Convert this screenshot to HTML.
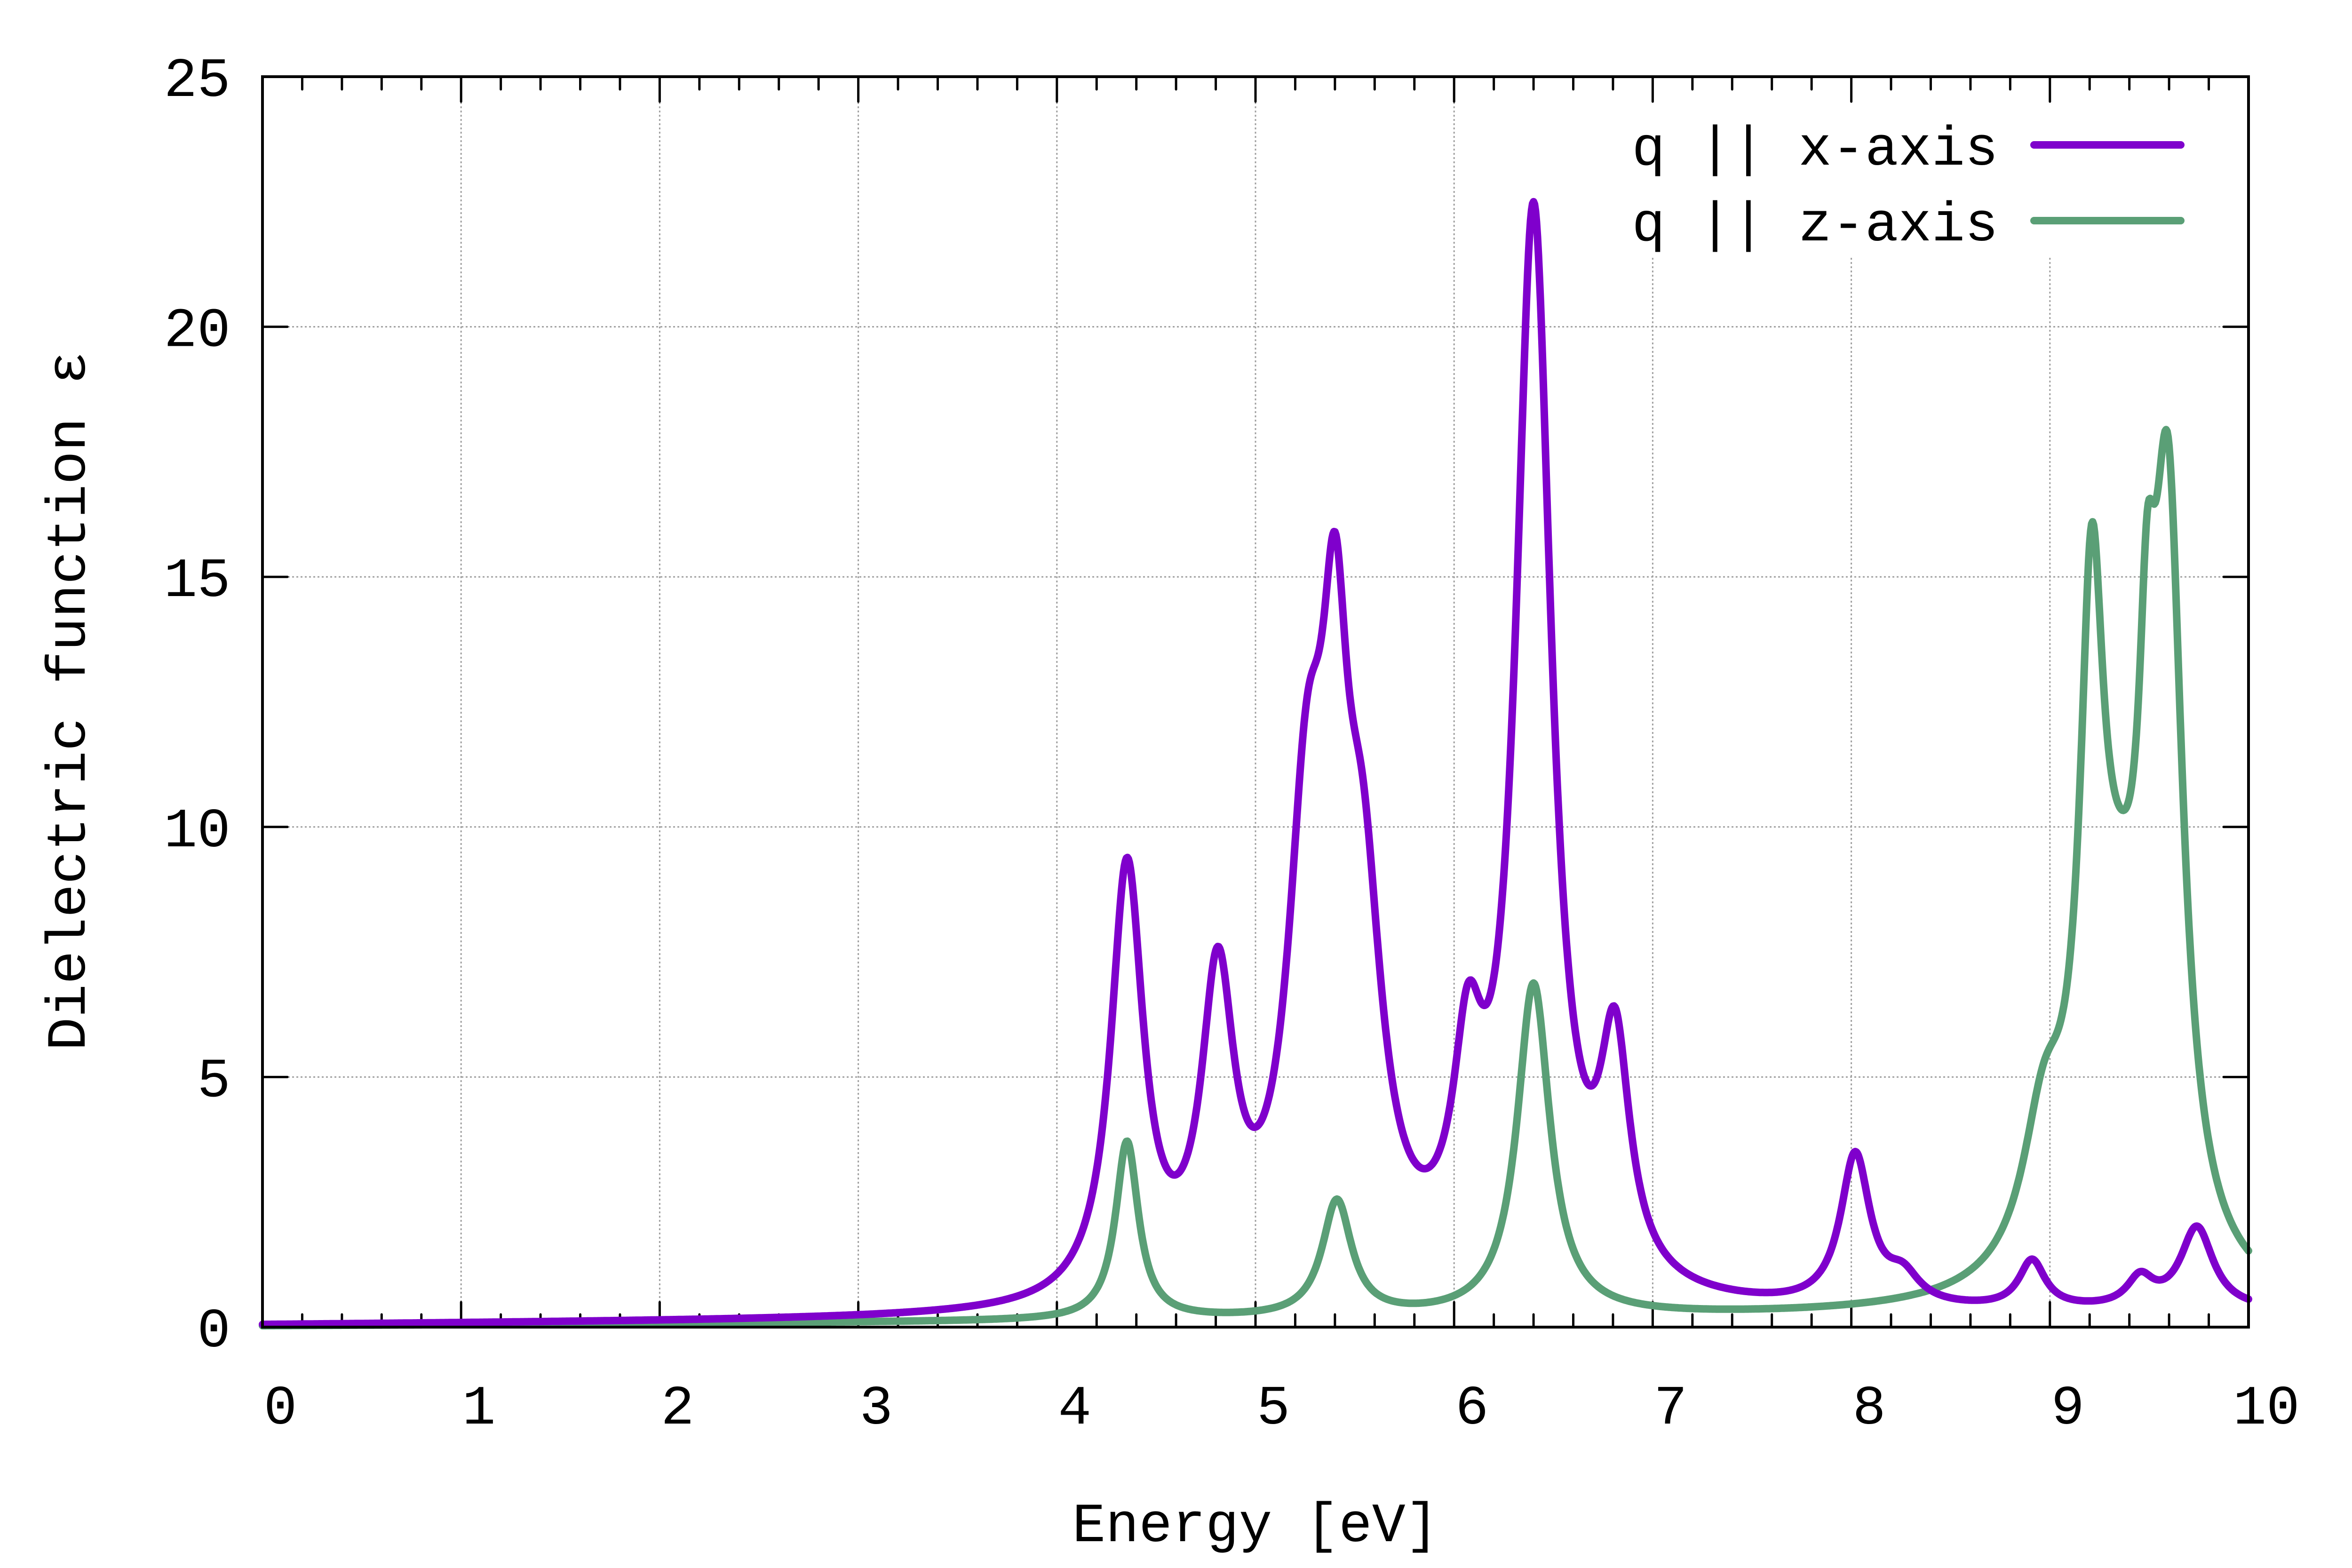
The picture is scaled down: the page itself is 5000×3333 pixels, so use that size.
<!DOCTYPE html>
<html><head><meta charset="utf-8">
<style>
html,body{margin:0;padding:0;background:#fff;}
svg{display:block;}
text{font-family:"Liberation Mono","DejaVu Sans Mono",monospace;font-size:118px;fill:#000;}
</style></head>
<body>
<svg id="s" width="5000" height="3333" viewBox="0 0 5000 3333" xmlns="http://www.w3.org/2000/svg">
<rect width="5000" height="3333" fill="#fff"/>
<g id="grid" stroke="#a0a0a0" stroke-width="3" stroke-dasharray="4,5" fill="none"></g>
<rect x="3400" y="166" width="1330" height="382" fill="#fff"/>
<g id="ticks" stroke="#000" stroke-width="5" stroke-linecap="round" fill="none"></g>
<g id="labels"></g>
<text x="2669" y="3276" text-anchor="middle">Energy [eV]</text>
<text transform="translate(180,1490) rotate(-90)" text-anchor="middle">Dielectric function ε</text>
<g fill="none" stroke-width="16" stroke-linecap="round" stroke-linejoin="round">
<path id="pz" stroke="#5a9f76"/>
<path id="px" stroke="#7f00cc"/>
</g>
<rect x="558" y="163" width="4222" height="2658" fill="none" stroke="#000" stroke-width="6"/>
<text x="4248" y="350" text-anchor="end">q || x-axis</text>
<text x="4248" y="511" text-anchor="end">q || z-axis</text>
<line x1="4324" y1="308" x2="4636" y2="308" stroke="#7f00cc" stroke-width="16" stroke-linecap="round"/>
<line x1="4324" y1="469" x2="4636" y2="469" stroke="#5a9f76" stroke-width="16" stroke-linecap="round"/>
</svg>
<script>
var L=558,R=4780,T=163,B=2821;
function X(e){return L+(R-L)*e/10;}
function Y(v){return B-(B-T)*v/25;}
var NS="http://www.w3.org/2000/svg";
function el(p,tag,attrs,txt){var n=document.createElementNS(NS,tag);for(var k in attrs)n.setAttribute(k,attrs[k]);if(txt!==undefined)n.textContent=txt;p.appendChild(n);return n;}
var grid=document.getElementById('grid'),ticks=document.getElementById('ticks'),labels=document.getElementById('labels');
for(var i=1;i<10;i++){var x=X(i);el(grid,'line',{x1:x,y1:(x>3400&&x<4730)?548:T,x2:x,y2:B});}
for(var v=5;v<25;v+=5){var y=Y(v);el(grid,'line',{x1:L,y1:y,x2:(y<548)?3400:R,y2:y});}
for(var i=0;i<=50;i++){var x=X(i/5);var len=(i%5==0)?53:27;
 el(ticks,'line',{x1:x,y1:B,x2:x,y2:B-len});el(ticks,'line',{x1:x,y1:T,x2:x,y2:T+len});}
for(var v=0;v<=25;v+=5){var y=Y(v);el(ticks,'line',{x1:L,y1:y,x2:L+53,y2:y});el(ticks,'line',{x1:R,y1:y,x2:R-53,y2:y});
 el(labels,'text',{x:490,y:y+41,'text-anchor':'end'},String(v));}
for(var i=0;i<=10;i++){el(labels,'text',{x:X(i)+38,y:3026,'text-anchor':'middle'},String(i));}
function build(peaks,base){
 var n=peaks.length,M=[],t=[];
 for(var i=0;i<n;i++){M.push([]);for(var j=0;j<n;j++){var d=(peaks[i][0]-peaks[j][0])/peaks[j][2];M[i].push(1/(1+d*d));}
  t.push(peaks[i][1]-base(peaks[i][0]));}
 for(var c=0;c<n;c++){var p=c;for(var r=c+1;r<n;r++)if(Math.abs(M[r][c])>Math.abs(M[p][c]))p=r;
  var tm=M[c];M[c]=M[p];M[p]=tm;var tt=t[c];t[c]=t[p];t[p]=tt;
  for(var r=0;r<n;r++){if(r==c)continue;var f=M[r][c]/M[c][c];for(var k=c;k<n;k++)M[r][k]-=f*M[c][k];t[r]-=f*t[c];}}
 var a=[];for(var i=0;i<n;i++)a.push(t[i]/M[i][i]);
 var d='';
 for(var s=0;s<=2000;s++){var E=s*0.005;var v=base(E);
  for(var j=0;j<n;j++){var q=(E-peaks[j][0])/peaks[j][2];v+=a[j]/(1+q*q);}
  if(v<0)v=0;
  d+=(s?'L':'M')+X(E).toFixed(1)+' '+Y(v).toFixed(1);}
 return d;}
var px=[[4.353,9.39,0.1],[4.81,7.61,0.1],[5.26,12.6,0.12],[5.40,15.9,0.08],[5.54,11.0,0.12],
 [6.07,6.88,0.09],[6.40,22.5,0.11],[6.81,6.40,0.09],[8.02,3.51,0.09],[8.26,1.30,0.1],
 [8.91,1.36,0.08],[9.455,1.11,0.08],[9.74,2.02,0.1]];
var pz=[[4.353,3.72,0.07],[5.41,2.56,0.09],[6.40,6.88,0.1],[8.97,5.3,0.13],[9.21,16.06,0.07],
 [9.34,10.5,0.2],[9.49,16.3,0.05],[9.595,17.8,0.09]];
document.getElementById('px').setAttribute('d',build(px,function(E){return 0.03+0.025*E;}));
document.getElementById('pz').setAttribute('d',build(pz,function(E){return 0.02+0.02*E;}));
</script>
</body></html>
